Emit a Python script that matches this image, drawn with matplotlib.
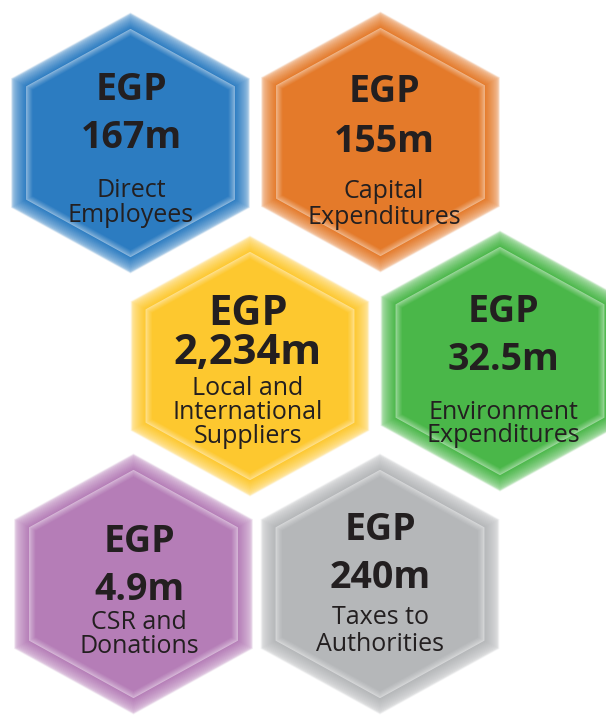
import numpy as np
import matplotlib
matplotlib.use("Agg")
import matplotlib.pyplot as plt
from matplotlib.patches import Polygon
from matplotlib.colors import to_rgb

# ---- data ----
currency = "EGP"
values = ["167m", "155m", "2,234m", "32.5m", "4.9m", "240m"]
labels = [
    "Direct\nEmployees",
    "Capital\nExpenditures",
    "Local and\nInternational\nSuppliers",
    "Environment\nExpenditures",
    "CSR and\nDonations",
    "Taxes to\nAuthorities",
]
colors = ["#2C7CC1", "#E47A2A", "#FDC82F", "#4AB749", "#B57DB7", "#B5B7B9"]

# ---- layout (pixels, y downwards) ----
centers = [(130.5, 143), (380.5, 142), (250, 366), (500, 361), (133.5, 584), (380, 584)]
HALF_W, HALF_H, HALF_S = 118, 129, 64
# baselines: currency, value, label lines
text_pos = [
    dict(x=131, egp=100, val=148, lab=[197, 222], big=27, small=18),
    dict(x=384, egp=102, val=152, lab=[198, 224], big=27, small=18),
    dict(x=248, egp=325, val=364, lab=[395, 419, 443], big=30, small=18),
    dict(x=503, egp=322, val=370, lab=[419, 442], big=27, small=18),
    dict(x=139, egp=552, val=600, lab=[629, 653], big=27, small=18),
    dict(x=380, egp=540, val=588, lab=[624, 651], big=27, small=18),
]

fig = plt.figure(figsize=(6.06, 7.17), dpi=100)
ax = fig.add_axes([0, 0, 1, 1])
ax.set_xlim(0, 606)
ax.set_ylim(717, 0)
ax.axis("off")


def hex_verts(cx, cy, k):
    a, h, s = HALF_W * k, HALF_H * k, HALF_S * k
    return [(cx, cy - h), (cx + a, cy - s), (cx + a, cy + s),
            (cx, cy + h), (cx - a, cy + s), (cx - a, cy - s)]


def mix(c1, c2, t):
    c1, c2 = np.array(to_rgb(c1)), np.array(to_rgb(c2))
    return tuple(c1 * (1 - t) + c2 * t)


for (cx, cy), col in zip(centers, colors):
    light = mix(col, "white", 0.55)
    # soft outer feather
    for k, al in zip([1.012, 1.006], [0.25, 0.5]):
        ax.add_patch(Polygon(hex_verts(cx, cy, k), closed=True,
                             facecolor=light, edgecolor="none", alpha=al, zorder=1))
    # outer band gradient (light at edge -> main color inward)
    n = 14
    k_out, k_in = 1.0, 0.885
    for i in range(n):
        t = i / (n - 1)
        k = k_out - (k_out - k_in) * t
        c = mix(light, col, min(1.0, t ** 0.7))
        ax.add_patch(Polygon(hex_verts(cx, cy, k), closed=True,
                             facecolor=c, edgecolor="none", zorder=2))
    # inner bevel gradient
    n2 = 10
    k2 = 0.83
    for i in range(n2):
        t = i / (n2 - 1)
        k = k_in - (k_in - k2) * t
        c = mix(mix(col, "white", 0.45), col, t ** 0.8)
        ax.add_patch(Polygon(hex_verts(cx, cy, k), closed=True,
                             facecolor=c, edgecolor="none", zorder=3))

txt_color = "#231F20"
for tp, val, lab in zip(text_pos, values, labels):
    ax.text(tp["x"], tp["egp"], currency, ha="center", va="baseline",
            fontsize=tp["big"], fontweight="bold", family="Open Sans",
            color=txt_color, zorder=5)
    ax.text(tp["x"], tp["val"], val, ha="center", va="baseline",
            fontsize=tp["big"], fontweight="bold", family="Open Sans",
            color=txt_color, zorder=5)
    for yb, line in zip(tp["lab"], lab.split("\n")):
        ax.text(tp["x"], yb, line, ha="center", va="baseline",
                fontsize=tp["small"], family="Open Sans",
                color=txt_color, zorder=5)

fig.savefig("out.png", dpi=100, facecolor="white")
